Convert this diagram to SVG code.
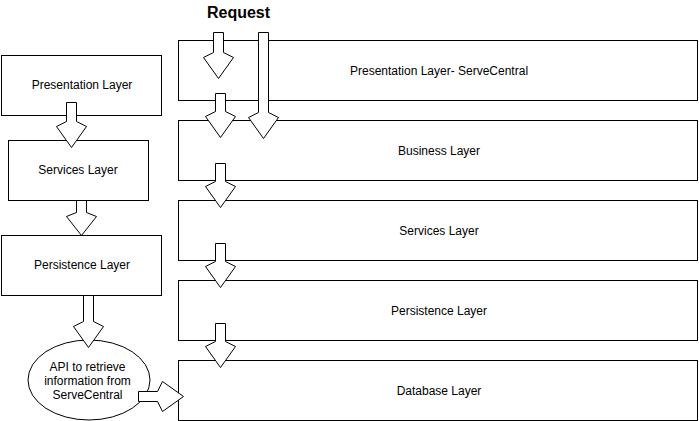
<svg xmlns="http://www.w3.org/2000/svg" width="699" height="421" viewBox="0 0 699 421">
<style>
.box{fill:#fff;stroke:#000;stroke-width:1}
.arr{fill:#fff;stroke:#000;stroke-width:1;stroke-linejoin:miter}
.t{font-family:"Liberation Sans",Arial,sans-serif;font-size:12px;fill:#000;text-anchor:middle}
.title{font-family:"Liberation Sans",Arial,sans-serif;font-size:16px;font-weight:bold;fill:#000;text-anchor:middle}
</style>
<rect width="699" height="421" fill="#fff"/>
<text class="title" x="238.5" y="17.5">Request</text>
<g id="left-presentation"><rect class="box" x="1.5" y="55.5" width="160" height="60"/><text class="t" x="82" y="89">Presentation Layer</text></g>
<g id="left-services"><rect class="box" x="8.5" y="140.5" width="140" height="60"/><text class="t" x="78" y="174">Services Layer</text></g>
<g id="left-persistence"><rect class="box" x="1.5" y="235.5" width="160" height="60"/><text class="t" x="82" y="269">Persistence Layer</text></g>
<g id="api"><ellipse class="box" cx="89" cy="380" rx="61" ry="40"/><text class="t" x="87.5" y="370.5">API to retrieve</text><text class="t" x="87.5" y="384.5">information from</text><text class="t" x="87.5" y="398.5">ServeCentral</text></g>
<g id="right-presentation"><rect class="box" x="178.5" y="40.5" width="519" height="60"/><text class="t" x="439" y="74.5">Presentation Layer- ServeCentral</text></g>
<g id="right-business"><rect class="box" x="178.5" y="120.5" width="519" height="60"/><text class="t" x="439" y="154.5">Business Layer</text></g>
<g id="right-services"><rect class="box" x="178.5" y="200.5" width="519" height="60"/><text class="t" x="439" y="234.5">Services Layer</text></g>
<g id="right-persistence"><rect class="box" x="178.5" y="280.5" width="519" height="60"/><text class="t" x="439" y="314.5">Persistence Layer</text></g>
<g id="right-database"><rect class="box" x="178.5" y="360.5" width="519" height="60"/><text class="t" x="439" y="394.5">Database Layer</text></g>
<g id="connectors">
<path class="arr" d="M66.5,102.5 L76.5,102.5 L76.5,121.5 L86.5,126.5 L71.5,147.5 L56.5,126.5 L66.5,121.5 Z"/>
<path class="arr" d="M76.5,200.5 L86.5,200.5 L86.5,212.5 L96.5,216.5 L81.5,235.5 L66.5,216.5 L76.5,212.5 Z"/>
<path class="arr" d="M83.5,295.5 L93.5,295.5 L93.5,321.5 L103.5,326.5 L88.5,347.5 L73.5,326.5 L83.5,321.5 Z"/>
<path class="arr" d="M138.5,391.5 L138.5,401.5 L157.5,401.5 L162.5,411.5 L183.5,396.5 L162.5,381.5 L157.5,391.5 Z"/>
<path class="arr" d="M213.5,32.5 L223.5,32.5 L223.5,52.5 L233.5,57.5 L218.5,78.5 L203.5,57.5 L213.5,52.5 Z"/>
<path class="arr" d="M215.5,93.5 L225.5,93.5 L225.5,111.5 L235.5,116.5 L220.5,137.5 L205.5,116.5 L215.5,111.5 Z"/>
<path class="arr" d="M258.5,32.5 L268.5,32.5 L268.5,112.5 L278.5,117.5 L263.5,138.5 L248.5,117.5 L258.5,112.5 Z"/>
<path class="arr" d="M215.5,163.5 L225.5,163.5 L225.5,181.5 L235.5,186.5 L220.5,207.5 L205.5,186.5 L215.5,181.5 Z"/>
<path class="arr" d="M215.5,243.5 L225.5,243.5 L225.5,261.5 L235.5,266.5 L220.5,287.5 L205.5,266.5 L215.5,261.5 Z"/>
<path class="arr" d="M215.5,323.5 L225.5,323.5 L225.5,341.5 L235.5,346.5 L220.5,367.5 L205.5,346.5 L215.5,341.5 Z"/>
</g>
</svg>
